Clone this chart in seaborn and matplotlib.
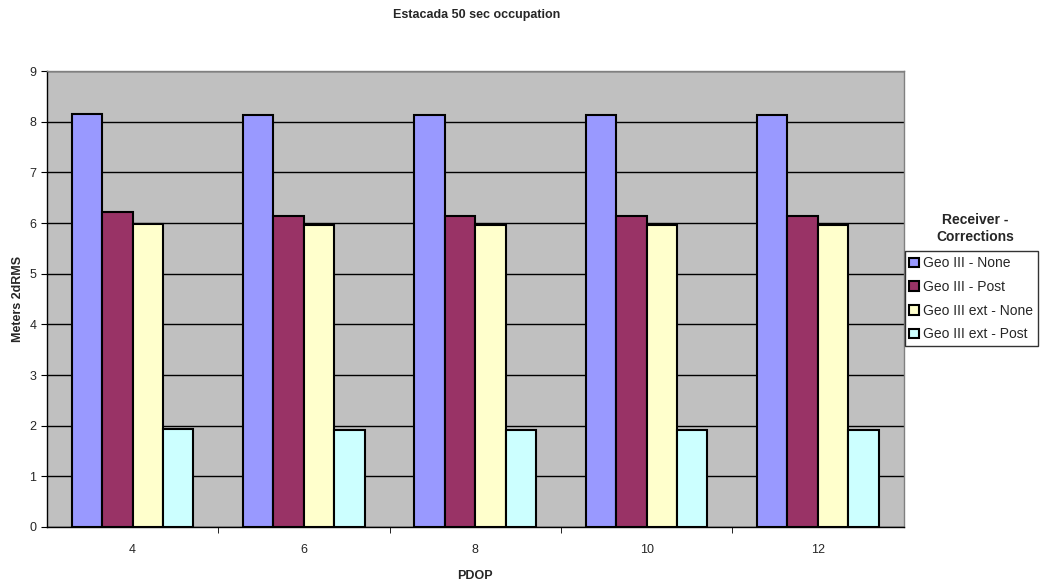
import pandas as pd
import seaborn as sns
import matplotlib.pyplot as plt

# data
pdop = ["4", "6", "8", "10", "12"]
geo3_none = [8.15, 8.14, 8.14, 8.14, 8.14]
geo3_post = [6.21, 6.14, 6.14, 6.14, 6.14]
geo3ext_none = [5.98, 5.97, 5.97, 5.97, 5.97]
geo3ext_post = [1.93, 1.92, 1.92, 1.92, 1.92]
series = ["Geo III - None", "Geo III - Post", "Geo III ext - None", "Geo III ext - Post"]
colors = ["#9999FF", "#993366", "#FFFFCC", "#CCFFFF"]

df = pd.DataFrame({"PDOP": pdop * 4,
                   "serie": sum([[s] * 5 for s in series], []),
                   "val": geo3_none + geo3_post + geo3ext_none + geo3ext_post})

sns.set_style("white")
plt.rcParams['font.family'] = ['Liberation Sans', 'DejaVu Sans']

fig = plt.figure(figsize=(10.41, 5.86), dpi=100)
ax = fig.add_axes([0.045, 0.1007, 0.823, 0.778])
ax.set_facecolor("#C0C0C0")

sns.barplot(data=df, x="PDOP", y="val", hue="serie", palette=colors, saturation=1,
            width=0.71, edgecolor="black", linewidth=1.5, ax=ax, zorder=3)

ax.set_ylim(0, 9)
ax.set_yticks(range(10))
ax.set_xlim(-0.5, 4.5)
ax.grid(axis="y", color="black", linewidth=1, zorder=0)
ax.set_axisbelow(True)
for s in ax.spines.values():
    s.set_color("#808080")
    s.set_linewidth(1)
ax.spines["bottom"].set_color("black")
ax.spines["left"].set_color("black")

ax.set_xticks([i + 0.5 for i in range(4)], minor=True)
ax.tick_params(axis="x", which="major", length=0, labelsize=9, pad=12)
ax.tick_params(axis="x", which="minor", length=4, direction="out", color="black")
ax.tick_params(axis="y", length=4, direction="out", color="black", labelsize=9)
ax.xaxis.set_tick_params(bottom=True, which="minor")
ax.yaxis.set_tick_params(left=True)

ax.set_xlabel("PDOP", fontsize=9, fontweight="bold", labelpad=10)
ax.set_ylabel("Meters 2dRMS", fontsize=9, fontweight="bold", labelpad=4)
fig.suptitle("Estacada 50 sec occupation", x=0.458, y=0.985, fontsize=9, fontweight="bold")

ax.legend(loc="upper left", bbox_to_anchor=(0.869, 0.571), bbox_transform=fig.transFigure,
          frameon=True, fancybox=False, edgecolor="black", fontsize=10,
          handlelength=0.7, handleheight=0.7, handletextpad=0.3, borderpad=0.35,
          labelspacing=0.7, borderaxespad=0)
fig.text(0.937, 0.61, "Receiver -\nCorrections", ha="center", va="center",
         fontsize=10, fontweight="bold", linespacing=1.3)

fig.savefig("out.png", dpi=100)
